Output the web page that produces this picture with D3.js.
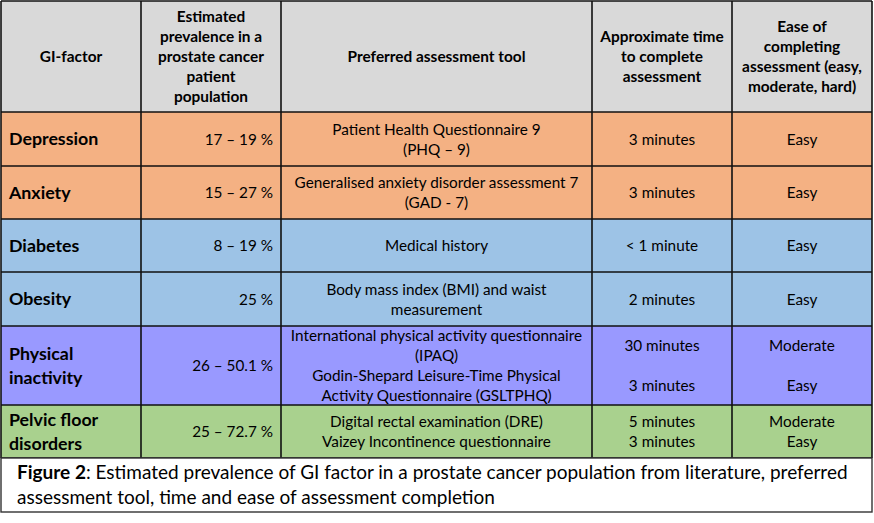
<!DOCTYPE html>
<html>
<head>
<meta charset="utf-8">
<script src="https://cdn.jsdelivr.net/npm/d3@7"></script>
<style>
  body { margin: 0; background: #fff; }
  text { font-family: Lato, "Open Sans", sans-serif; fill: #000; }
</style>
</head>
<body>
<svg id="table" width="874" height="523"></svg>
<script>
// Table content
const headers = [
    [["GI-factor"]],
    [["Estimated", "prevalence in a", "prostate cancer", "patient", "population"]],
    [["Preferred assessment tool"]],
    [["Approximate time", "to complete", "assessment"]],
    [["Ease of", "completing", "assessment (easy,", "moderate, hard)"]]
]
const factors = [["Depression"], ["Anxiety"], ["Diabetes"], ["Obesity"], ["Physical", "inactivity"], ["Pelvic floor", "disorders"]]
const prevalence = ["17 – 19 %", "15 – 27 %", "8 – 19 %", "25 %", "26 – 50.1 %", "25 – 72.7 %"]
const tools = [
    [["Patient Health Questionnaire 9", "(PHQ – 9)"]],
    [["Generalised anxiety disorder assessment 7", "(GAD - 7)"]],
    [["Medical history"]],
    [["Body mass index (BMI) and waist", "measurement"]],
    [["International physical activity questionnaire", "(IPAQ)"], ["Godin-Shepard Leisure-Time Physical", "Activity Questionnaire (GSLTPHQ)"]],
    [["Digital rectal examination (DRE)", "Vaizey Incontinence questionnaire"]]
]
const times = [[["3 minutes"]], [["3 minutes"]], [["< 1 minute"]], [["2 minutes"]], [["30 minutes"], ["3 minutes"]], [["5 minutes", "3 minutes"]]]
const ease = [[["Easy"]], [["Easy"]], [["Easy"]], [["Easy"]], [["Moderate"], ["Easy"]], [["Moderate", "Easy"]]]
const groups = ["mental", "mental", "metabolic", "metabolic", "activity", "pelvic"]
const groupNames = ["mental", "metabolic", "activity", "pelvic"]
const captionBold = "Figure 2"
const captionLines = [
    ": Estimated prevalence of GI factor in a prostate cancer population from literature, preferred",
    "assessment tool, time and ease of assessment completion"
]

// Layout
const LAYOUT = {
    left: 1,
    top: 1,
    colWidths: [140, 140, 311, 140, 140],
    headerHeight: 111,
    rowHeights: [54, 53, 53, 54, 79, 53],
    captionHeight: 54,
    pad: 8,
    lineHeight: 20,
    labelLineHeight: 24,
    bodySize: 15.3,
    headerSize: 15.4,
    labelSize: 17.8,
    captionSize: 19,
}

const color = d3.scaleOrdinal()
    .domain(groupNames)
    .range(["#f4b183", "#9dc3e6", "#9999ff", "#a9d18e"])

const svg = d3.select("#table")

const colX = [LAYOUT.left, ...d3.cumsum(LAYOUT.colWidths).map(v => v + LAYOUT.left)]
const rowY = [LAYOUT.top, ...d3.cumsum([LAYOUT.headerHeight, ...LAYOUT.rowHeights]).map(v => v + LAYOUT.top)]
const tableRight = colX[colX.length - 1]
const tableBottom = rowY[rowY.length - 1]

// one record per table row, header first
const rows = [{ fill: "#d9d9d9", cells: headers, header: true }]
factors.forEach((f, i) => {
    rows.push({
        fill: color(groups[i]),
        cells: [[f], [[prevalence[i]]], tools[i], times[i], ease[i]],
        header: false
    })
})

function cellText(g, blocks, col, y0, h, opts) {
    const x = opts.anchor === "start" ? colX[col] + LAYOUT.pad
        : opts.anchor === "end" ? colX[col + 1] - LAYOUT.pad
        : (colX[col] + colX[col + 1]) / 2
    blocks.forEach((lines, b) => {
        const c = y0 + h * (b + 0.5) / blocks.length
        lines.forEach((line, j) => {
            g.append("text")
                .attr("x", x)
                .attr("y", c + (j - (lines.length - 1) / 2) * opts.lineHeight + opts.size * 0.36)
                .attr("text-anchor", opts.anchor)
                .attr("font-size", opts.size + "px")
                .attr("font-weight", opts.bold ? 700 : 400)
                .text(line)
        })
    })
}

// cell backgrounds
const rowG = svg.selectAll(".row")
    .data(rows)
    .enter().append("g")
    .attr("class", "row")

rowG.each(function (row, r) {
    const g = d3.select(this)
    const y0 = rowY[r], h = rowY[r + 1] - rowY[r]
    g.selectAll("rect")
        .data(row.cells)
        .enter().append("rect")
        .attr("x", (_, c) => colX[c])
        .attr("y", y0)
        .attr("width", (_, c) => colX[c + 1] - colX[c])
        .attr("height", h)
        .attr("fill", row.fill)

    row.cells.forEach((blocks, c) => {
        if (row.header) {
            cellText(g, blocks, c, y0, h, { anchor: "middle", size: LAYOUT.headerSize, lineHeight: LAYOUT.lineHeight, bold: true })
        } else if (c === 0) {
            cellText(g, blocks, c, y0, h, { anchor: "start", size: LAYOUT.labelSize, lineHeight: LAYOUT.labelLineHeight, bold: true })
        } else if (c === 1) {
            cellText(g, blocks, c, y0, h, { anchor: "end", size: LAYOUT.bodySize, lineHeight: LAYOUT.lineHeight })
        } else {
            cellText(g, blocks, c, y0, h, { anchor: "middle", size: LAYOUT.bodySize, lineHeight: LAYOUT.lineHeight })
        }
    })
})

// grid lines
svg.selectAll(".hline")
    .data(rowY)
    .enter().append("line")
    .attr("x1", LAYOUT.left).attr("x2", tableRight)
    .attr("y1", d => d).attr("y2", d => d)
    .attr("stroke", "#111").attr("stroke-width", 1.6)

svg.selectAll(".vline")
    .data(colX)
    .enter().append("line")
    .attr("x1", d => d).attr("x2", d => d)
    .attr("y1", LAYOUT.top).attr("y2", tableBottom)
    .attr("stroke", "#111").attr("stroke-width", 1.6)

// caption box
svg.append("rect")
    .attr("x", LAYOUT.left)
    .attr("y", tableBottom)
    .attr("width", tableRight - LAYOUT.left)
    .attr("height", LAYOUT.captionHeight)
    .attr("fill", "#fff")
    .attr("stroke", "#333")
    .attr("stroke-width", 1.4)

const cap = svg.append("text")
    .attr("font-size", LAYOUT.captionSize + "px")

cap.append("tspan")
    .attr("x", 17).attr("y", tableBottom + 21)
    .attr("font-weight", 700)
    .text(captionBold)
cap.append("tspan")
    .text(captionLines[0])
cap.append("tspan")
    .attr("x", 17).attr("y", tableBottom + 46)
    .text(captionLines[1])
</script>
</body>
</html>
